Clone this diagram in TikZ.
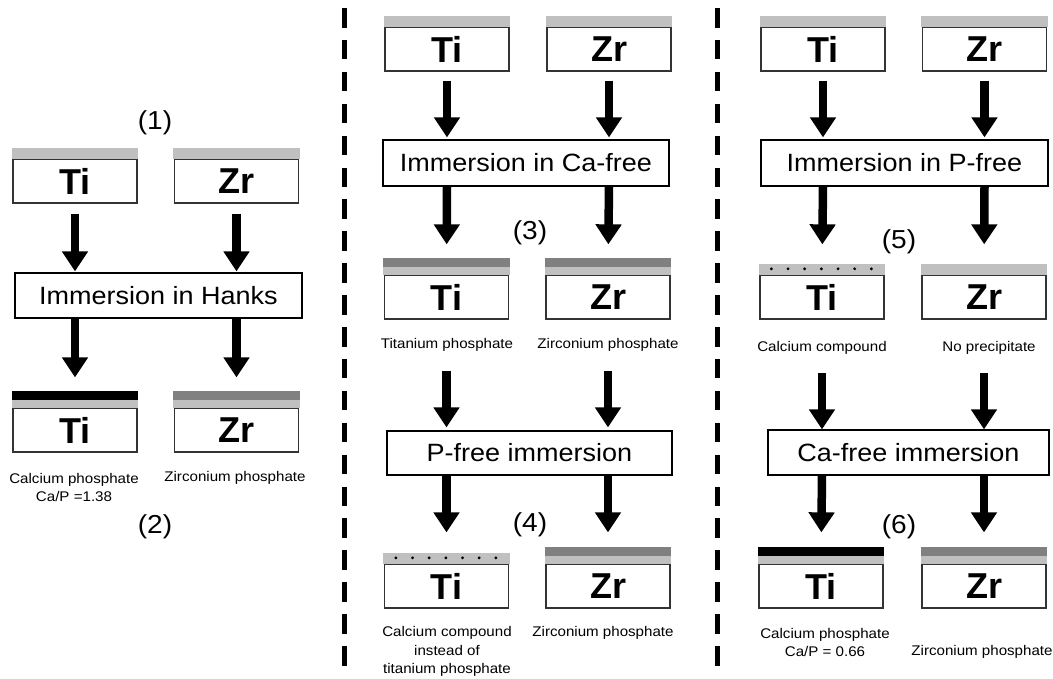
\documentclass[tikz,border=0pt]{standalone}
\usepackage{fontspec}
\setmainfont{Liberation Sans}
\newfontfamily\wf[FakeStretch=1.08]{Liberation Sans}
\usetikzlibrary{arrows.meta,calc}
\definecolor{lbarc}{HTML}{C0C0C0}
\definecolor{dbarc}{HTML}{808080}
\definecolor{boxc}{HTML}{333333}
\newcommand\mylbar[1]{\fill[lbarc] ($(#1.north west)+(-0.65,-10)$) rectangle ($(#1.north east)+(0.65,0.65)$);}
\newcommand\mydbar[2]{\fill[lbarc] ($(#1.north west)+(-0.65,-7)$) rectangle ($(#1.north east)+(0.65,0.65)$);
  \fill[#2] ($(#1.north west)+(-0.65,-16.5)$) rectangle ($(#1.north east)+(0.65,-7)$);}
\newcommand\mydotbar[1]{\mylbar{#1}
  \foreach \k in {0,...,6}{\fill[black] ($(#1.north west)+(12+16.67*\k,-5.5)$) circle (1.6);}}
\begin{document}
\begin{tikzpicture}[x=1pt,y=-1pt,
 sub/.style={draw=boxc,line width=1.3pt,fill=white,minimum width=124pt,minimum height=44pt,inner sep=0pt,font=\bfseries\fontsize{36}{36}\selectfont},
 imm/.style={draw=black,line width=1.3pt,fill=white,minimum height=45pt,inner sep=0pt,font=\wf\fontsize{25}{25}\selectfont},
 lbl/.style={font=\wf\fontsize{14}{18.5}\selectfont,align=center,inner sep=0pt},
 num/.style={font=\wf\fontsize{26}{26}\selectfont,inner sep=0pt},
 arr/.style={line width=8.5pt,-{Triangle[width=25pt,length=20pt]}},
 sep/.style={line width=5pt,dash pattern=on 19.5pt off 12.4pt},
]
\useasboundingbox (0,0) rectangle (1053,678);

% separators
\coordinate (s1a) at (344.5,8);
\coordinate (s1b) at (344.5,666);
\coordinate (s2a) at (717.5,8);
\coordinate (s2b) at (717.5,666);
\draw[sep] (s1a) -- (s1b);
\draw[sep] (s2a) -- (s2b);

% ---------- panel 1
\node[sub] (at1) at (75,181) {Ti};
\node[sub] (az1) at (236.5,181) {Zr};
\node[imm,minimum width=287pt] (ih) at (158.5,295.5) {Immersion in Hanks};
\node[sub] (at2) at (75,430) {Ti};
\node[sub] (az2) at (236.5,430) {Zr};
\mylbar{at1}
\mylbar{az1}
\mydbar{at2}{black}
\mydbar{az2}{dbarc}
\node[num] (n1) at (155,123) {(1)};
\node[lbl] (c1) at (74,487.5) {Calcium phosphate\\Ca/P =1.38};
\node[lbl] (c2) at (235,478) {Zirconium phosphate};
\node[num] (n2) at (155,527) {(2)};
\draw[arr,shorten <=10pt,shorten >=1pt] (at1.south) -- (at1.south |- ih.north);
\draw[arr,shorten <=10pt,shorten >=1pt] (az1.south) -- (az1.south |- ih.north);
\draw[arr,shorten >=30pt] (at1 |- ih.south) -- (at2.north);
\draw[arr,shorten >=30pt] (az1 |- ih.south) -- (az2.north);

% ---------- panel 2
\node[sub] (bt1) at (447,49) {Ti};
\node[sub] (bz1) at (609,49) {Zr};
\node[imm,minimum width=286pt,minimum height=46pt] (ica) at (526,163) {Immersion in Ca-free};
\node[sub] (bt2) at (446.5,297) {Ti};
\node[sub] (bz2) at (608,297) {Zr};
\node[lbl] (d1) at (447,345) {Titanium phosphate};
\node[lbl] (d2) at (608,345) {Zirconium phosphate};
\node[imm,minimum width=285pt,minimum height=44pt] (ipf) at (529.5,453) {P-free immersion};
\node[sub] (bt3) at (446.5,586) {Ti};
\node[sub] (bz3) at (608,586) {Zr};
\node[lbl] (d3) at (447,651.5) {Calcium compound\\instead of\\titanium phosphate};
\node[lbl] (d4) at (603,633) {Zirconium phosphate};
\node[num] (n3) at (530,233) {(3)};
\node[num] (n4) at (530,525) {(4)};
\mylbar{bt1}
\mylbar{bz1}
\mydbar{bt2}{dbarc}
\mydbar{bz2}{dbarc}
\mydotbar{bt3}
\mydbar{bz3}{dbarc}
\draw[arr,shorten <=9pt,shorten >=2pt] (bt1.south) -- (bt1.south |- ica.north);
\draw[arr,shorten <=9pt,shorten >=2pt] (bz1.south) -- (bz1.south |- ica.north);
\draw[arr,shorten >=30pt] (bt1 |- ica.south) -- (bt2.north);
\draw[arr,shorten >=30pt] (bz1 |- ica.south) -- (bz2.north);
\draw[arr,shorten <=51pt,shorten >=3pt] (bt2.south) -- (bt2.south |- ipf.north);
\draw[arr,shorten <=51pt,shorten >=3pt] (bz2.south) -- (bz2.south |- ipf.north);
\draw[arr,shorten >=31pt] (bt2 |- ipf.south) -- (bt3.north);
\draw[arr,shorten >=31pt] (bz2 |- ipf.south) -- (bz3.north);

% ---------- panel 3
\node[sub] (ct1) at (823,49) {Ti};
\node[sub] (cz1) at (984.5,49) {Zr};
\node[imm,minimum width=287pt,minimum height=46pt] (ipf2) at (904.5,163) {Immersion in P-free};
\node[sub] (ct2) at (822,297) {Ti};
\node[sub] (cz2) at (984,297) {Zr};
\node[lbl] (e1) at (822,348) {Calcium compound};
\node[lbl] (e2) at (989,348) {No precipitate};
\node[imm,minimum width=281pt] (icf) at (908.5,452.5) {Ca-free immersion};
\node[sub] (ct3) at (821,586) {Ti};
\node[sub] (cz3) at (984,586) {Zr};
\node[lbl] (e3) at (825,642.5) {Calcium phosphate\\Ca/P = 0.66};
\node[lbl] (e4) at (982,652) {Zirconium phosphate};
\node[num] (n5) at (899,242) {(5)};
\node[num] (n6) at (899,527) {(6)};
\mylbar{ct1}
\mylbar{cz1}
\mydotbar{ct2}
\mylbar{cz2}
\mydbar{ct3}{black}
\mydbar{cz3}{dbarc}
\draw[arr,shorten <=9pt,shorten >=2pt] (ct1.south) -- (ct1.south |- ipf2.north);
\draw[arr,shorten <=9pt,shorten >=2pt] (cz1.south) -- (cz1.south |- ipf2.north);
\draw[arr,shorten >=30pt] (ct1 |- ipf2.south) -- (ct2.north);
\draw[arr,shorten >=30pt] (cz1 |- ipf2.south) -- (cz2.north);
\draw[arr,shorten <=53pt,shorten >=0pt] (ct2.south) -- (ct2.south |- icf.north);
\draw[arr,shorten <=53pt,shorten >=0pt] (cz2.south) -- (cz2.south |- icf.north);
\draw[arr,shorten >=31pt] (ct2 |- icf.south) -- (ct3.north);
\draw[arr,shorten >=31pt] (cz2 |- icf.south) -- (cz3.north);
\end{tikzpicture}
\end{document}
